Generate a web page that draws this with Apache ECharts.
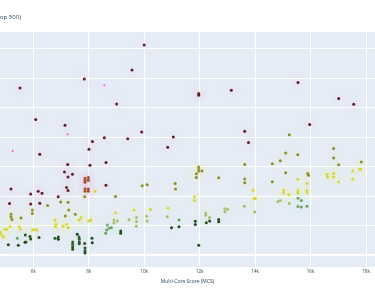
<!DOCTYPE html>
<html><head><meta charset="utf-8">
<script src="https://cdn.jsdelivr.net/npm/echarts@6/dist/echarts.min.js"></script>
<style>html,body{margin:0;padding:0;background:#fff}#c{width:375px;height:293px}</style>
</head><body><div id="c"></div>
<script>
// x = Multi-Core Score (MCS); y = value (axis cropped in reference)
const titleText = 'op 500)';
const xAxisName = 'Multi-Core Score (MCS)';
const xTicks = [6000, 8000, 10000, 12000, 14000, 16000, 18000];
const yGrid = [0, 1, 2, 3, 4, 5, 6, 7];

const redPts = [[10000,7.12],[9560,6.27],[7840,5.97],[5520,5.66],[9008,5.12],[6087,4.60],[7144,4.40],[9910,4.17],
 [11050,4.00],[8561,3.98],[9405,3.94],[8135,3.85],[10848,3.66],[6235,3.42],[8009,3.59],[7241,3.07],[8045,3.05],
 [8622,3.14],[7126,2.82],[7414,2.74],[7252,2.65],[7198,2.29],[7252,2.19],[5196,2.24],[8622,2.37],[5906,2.07],
 [6177,2.17],[6314,2.10],[6898,1.98],[5142,1.75],[5906,1.73],[6235,1.76],[11966,5.48],[11966,5.42],[13142,5.59],
 [15548,5.85],[17016,5.31],[17557,5.11],[15970,4.43],[13625,4.20],[13762,3.82]];
const orangePts = [[7865,2.61],[7865,2.54],[7865,2.47],[7984,2.63],[7984,2.54],[7865,2.25],[7865,2.17],[7984,2.24],[7984,2.17]];
const magentaPts = [[8561,5.76],[7241,4.10],[5257,3.53]];
const olivePts = [[7854,1.98],[8965,1.99],[9928,2.35],[10109,2.39],[11118,2.43],[11129,2.24],[6988,1.80],[7255,1.79],
 [6520,1.68],[5196,1.39],[5196,1.29],[5232,1.21],[5556,1.26],[5964,1.53],[5964,1.41],[7277,1.53],[7154,1.33],[7515,1.39],
 [13625,3.07],[15234,4.08],[15104,3.46],[15541,3.40],[16836,3.61],[16836,3.29],[17016,3.06],[17831,3.16],[14909,3.20],
 [14621,3.10],[15104,2.79],[14621,2.49],[13625,2.58],[13625,2.45],[12688,2.62],[11966,2.99],[11966,2.91],[11966,2.84],
 [12085,2.85],[11880,2.76],[11880,2.63],[15898,2.77],[15927,2.71]];
const yellowPts = [[8226,2.17],[17016,2.48],[15541,2.57],[17521,2.58],[15872,2.43],[16594,2.73],[16604,2.65],[16836,2.77],
 [16836,2.65],[17521,2.85],[17766,2.91],[17810,2.91],[15032,2.20],[15032,2.11],[15212,2.05],[15541,2.18],[15541,2.11],
 [15872,2.19],[15872,2.12],[13925,2.20],[13961,1.92],[14008,1.92],[11815,1.98],[11815,1.85],[8965,1.43],[9632,1.53],
 [10228,1.55],[10859,1.59],[7721,1.28],[7998,1.16],[8081,1.19],[7659,1.19],[6783,1.19],[6819,1.05],[6794,0.96],
 [7205,1.04],[7263,0.93],[7071,0.98],[4969,0.88],[5041,0.87],[5160,0.96],[5495,0.96],[5520,0.89],[5964,0.85],
 [6036,0.87],[6123,0.85],[4860,0.68],[4918,0.62],[4817,0.78]];
const paleGreenPts = [[9452,1.20],[9722,1.28],[9722,1.14],[9715,0.98],[10090,1.32],[10108,1.16],[8911,1.19],[9030,1.16],
 [8911,1.09],[10833,1.30],[13611,1.66],[13986,1.46],[14819,1.81],[14909,1.85],[15234,1.75],[12219,1.43],[12219,1.35],
 [12356,1.28],[12907,1.57],[13005,1.56],[12907,1.47]];
const lightGreenPts = [[15548,1.93],[15667,1.85],[15548,1.65],[15667,1.63],[15872,1.66],[11255,1.19],[8669,1.02],
 [8731,0.91],[8648,0.85],[8612,0.74],[8814,0.94],[5423,0.57]];
const darkGreenPts = [[9153,0.82],[9153,0.74],[10985,0.93],[11255,0.96],[11843,1.15],[11843,1.04],[12240,1.10],[12363,1.16],
 [12688,1.21],[12688,1.13],[11966,0.34],[5712,0.68],[5737,0.45],[5881,0.63],[5906,0.55],[6206,0.60],[5098,0.35],
 [5459,0.34],[5701,0.44],[6783,0.57],[6902,0.62],[6902,0.54],[7421,0.45],[7421,0.37],[7421,0.29],[7421,0.20],
 [7649,0.62],[7659,0.54],[7659,0.45],[7659,0.39],[7587,0.71],[7854,0.40],[7865,0.24],[7865,0.15],[7865,0.07],
 [8117,0.57],[8128,0.42]];

const groups = [
  {name:'r', data:redPts, core:'#5e1f26', halo:'rgba(255,150,190,1)'},
  {name:'o', data:orangePts, core:'#9a4a25', halo:'rgba(255,150,190,1)'},
  {name:'ol', data:olivePts, core:'#8c8c2c', halo:'rgba(235,235,120,1)'},
  {name:'y', data:yellowPts, core:'#d6d63c', halo:'rgba(245,245,90,1)'},
  {name:'pg', data:paleGreenPts, core:'#aabb70', halo:'rgba(215,240,170,1)'},
  {name:'lg', data:lightGreenPts, core:'#6fa060', halo:'rgba(175,240,205,1)'},
  {name:'dg', data:darkGreenPts, core:'#1f4a1f', halo:'rgba(205,235,205,1)'},
  {name:'m', data:magentaPts, core:'#ff55cc', halo:'rgba(255,120,220,0.6)'}
];

const chart = echarts.init(document.getElementById('c'), null, {renderer:'canvas'});
const series = [{
  type:'scatter', data:[], z:0, zlevel:0, silent:true,
  markLine:{
    silent:true, symbol:'none', animation:false, z:0,
    label:{show:false},
    data: xTicks.map(v=>({xAxis:v, lineStyle:{color:'#ffffff', width:1, type:'solid'}}))
      .concat(yGrid.map(v=>({yAxis:v, lineStyle:{color:'#ffffff', width: v===0?2:1, type:'solid'}})))
  }
}];
groups.forEach(g=>{
  series.push({
    type:'scatter', name:g.name, data:g.data, z:10,
    symbol:'circle', symbolSize: g.name==='m'?2:3,
    itemStyle:{color:g.core, shadowBlur:8, shadowColor:g.halo, opacity:1},
    animation:false
  });
});

chart.setOption({
  animation:false,
  backgroundColor:'#ffffff',
  title:{text:titleText, left:-5, top:9, textStyle:{fontFamily:'Open Sans', fontSize:6, fontWeight:'normal', color:'#2a3f5f'}},
  grid:{left:0, right:0, top:32, bottom:26, show:true, backgroundColor:'#E5ECF6', borderWidth:0},
  xAxis:{type:'value', min:4799, max:18325,
    name:xAxisName, nameLocation:'middle', nameGap:11,
    nameTextStyle:{fontFamily:'Open Sans', fontSize:5, color:'#2a3f5f'},
    axisLine:{show:false}, axisTick:{show:false, customValues:xTicks}, splitLine:{show:false},
    axisLabel:{customValues:xTicks, margin:2, fontFamily:'Open Sans', fontSize:4.5, color:'#2a3f5f',
      formatter:v=>(v/1000)+'k'}},
  yAxis:{type:'value', min:-0.4, max:7.56, axisLine:{show:false}, axisTick:{show:false},
    axisLabel:{show:false}, splitLine:{show:false}},
  series:series
});
</script></body></html>
